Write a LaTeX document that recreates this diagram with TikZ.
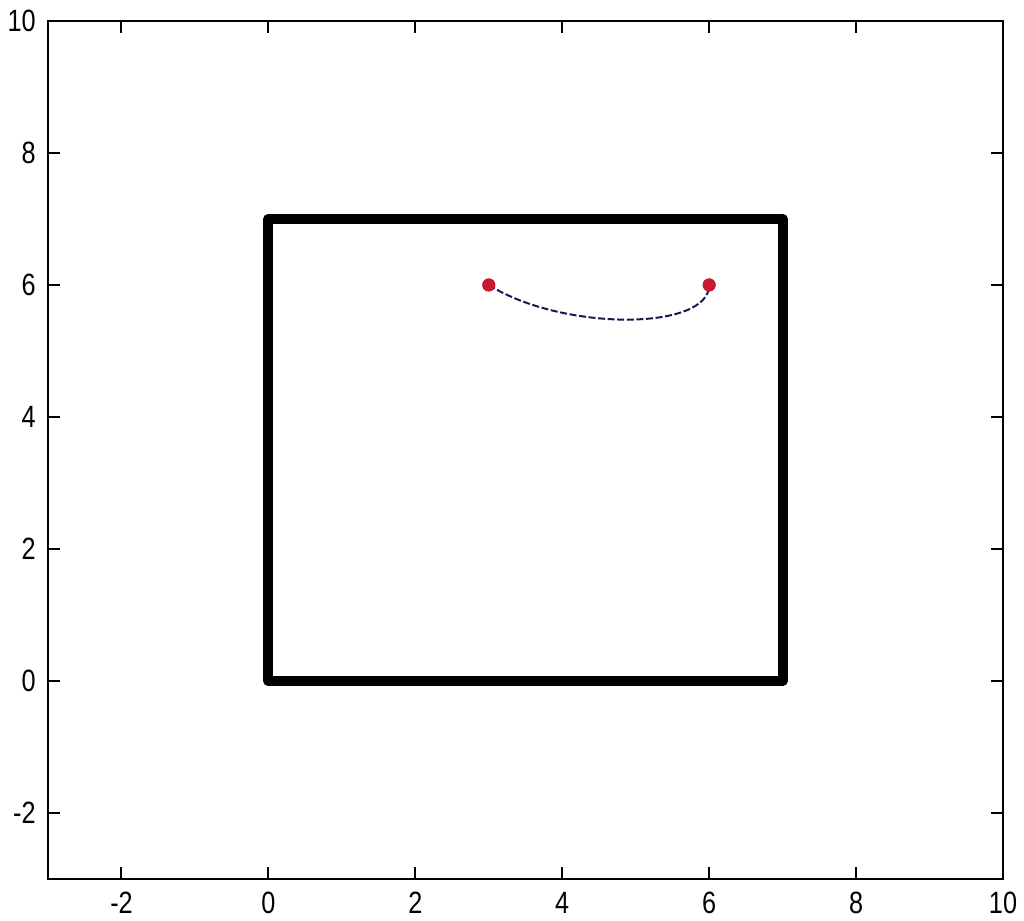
\documentclass[tikz,border=0pt]{standalone}
\usepackage{fontspec}
\setmainfont{Liberation Sans}[FakeStretch=0.82]
\begin{document}
\begin{tikzpicture}[x=36.73pt,y=33pt,
  axisline/.style={line width=1pt,black},
  tickline/.style={line width=1pt,black},
  ticklbl/.style={inner sep=0pt,font=\fontsize{15.4}{18}\selectfont},
  boxline/.style={line width=5pt,black,line join=round},
  pathline/.style={line width=1pt,color={rgb,255:red,25;green,25;blue,85},dash pattern=on 3.5pt off 1.3pt},
  marker/.style={circle,fill={rgb,255:red,200;green,25;blue,50},inner sep=0pt,minimum size=6.5pt}]
\useasboundingbox (-3.654,-3.636) rectangle (10.286,10.318);
\fill[white] (-3.654,-3.636) rectangle (10.286,10.318);
% axes box
\draw[axisline] (-3,-3) rectangle (10,10);
% x ticks and labels
\foreach \v in {-2,0,2,4,6,8,10}{
  \draw[tickline] (\v,-3) -- ++(0pt,6pt);
  \draw[tickline] (\v,10) -- ++(0pt,-6pt);
  \node[ticklbl,anchor=north] (xl\v) at ([yshift=-6.5pt]\v,-3) {\v};
}
% y ticks and labels
\foreach \v in {-2,0,2,4,6,8,10}{
  \draw[tickline] (-3,\v) -- ++(6pt,0pt);
  \draw[tickline] (10,\v) -- ++(-6pt,0pt);
  \node[ticklbl,anchor=east] (yl\v) at ([xshift=-6pt]-3,\v) {\v};
}
% square
\draw[boxline] (0,0) rectangle (7,7);
% path between markers
\node[marker] (p1) at (3,6) {};
\node[marker] (p2) at (6,6) {};
\draw[pathline] (p1.center) .. controls (4,5.3) and (6,5.3) .. (p2.center);
\node[marker] at (3,6) {};
\node[marker] at (6,6) {};
\end{tikzpicture}
\end{document}
